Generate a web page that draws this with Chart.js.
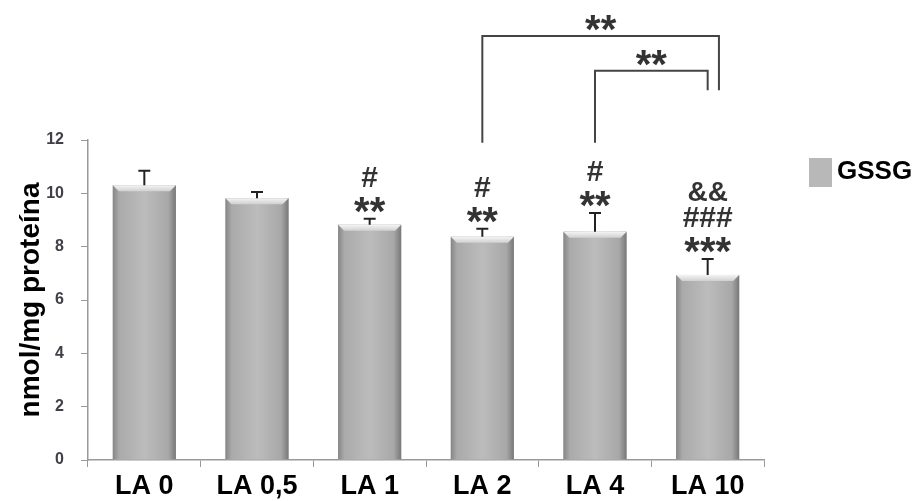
<!DOCTYPE html>
<html>
<head>
<meta charset="utf-8">
<script src="https://cdn.jsdelivr.net/npm/chart.js@4/dist/chart.umd.min.js"></script>
<style>
  html, body { margin: 0; padding: 0; background: #fff; }
  #wrap { width: 915px; height: 501px; position: relative; }
</style>
</head>
<body>
<div id="wrap"><canvas id="chart"></canvas></div>
<script>
// ─────────────────────────────────────────────────────────────
// DATA
// ─────────────────────────────────────────────────────────────
const categories = ['LA 0', 'LA 0,5', 'LA 1', 'LA 2', 'LA 4', 'LA 10'];
const gssgValues = [10.3, 9.82, 8.82, 8.37, 8.56, 6.94];
const gssgErrors = [0.55, 0.23, 0.23, 0.3, 0.7, 0.6];
// significance marks above each bar, listed from top to bottom
const marks = [[], [], ['#', '**'], ['#', '**'], ['#', '**'], ['&&', '###', '***']];
const yTicks = [0, 2, 4, 6, 8, 10, 12];
// comparison brackets: from bar, to bar, top height, left leg end, right leg end, label
const brackets = [
  { from: 3, to: 5, top: 15.9, leftEnd: 11.9, rightEnd: 13.87, label: '**', shift: 0.1 },
  { from: 4, to: 5, top: 14.6, leftEnd: 11.9, rightEnd: 13.87, label: '**', shift: 0 },
];
const seriesName = 'GSSG';

// ─────────────────────────────────────────────────────────────
// PLUGIN: shaded bars, error bars, marks, brackets, legend
// ─────────────────────────────────────────────────────────────
const decorPlugin = {
  id: 'decor',
  afterDatasetsDraw(chart) {
    const { ctx, scales: { x, y } } = chart;
    const meta = chart.getDatasetMeta(0);
    ctx.save();

    meta.data.forEach((bar, i) => {
      const left = bar.x - bar.width / 2;
      const right = bar.x + bar.width / 2;
      const top = bar.y;
      const bottom = bar.base;

      // body shading
      const g = ctx.createLinearGradient(left, 0, right, 0);
      g.addColorStop(0, '#868686');
      g.addColorStop(0.1, '#aaaaaa');
      g.addColorStop(0.5, '#bcbcbc');
      g.addColorStop(0.88, '#a8a8a8');
      g.addColorStop(1, '#787878');
      ctx.fillStyle = g;
      ctx.fillRect(left, top, right - left, bottom - top);

      // top bevel
      const bev = 6;
      ctx.beginPath();
      ctx.moveTo(left, top);
      ctx.lineTo(right, top);
      ctx.lineTo(right - bev, top + bev);
      ctx.lineTo(left + bev, top + bev);
      ctx.closePath();
      const gt = ctx.createLinearGradient(0, top, 0, top + bev);
      gt.addColorStop(0, '#f4f4f4');
      gt.addColorStop(1, '#d0d0d0');
      ctx.fillStyle = gt;
      ctx.fill();

      // error bar (upper half only)
      const yErr = y.getPixelForValue(gssgValues[i] + gssgErrors[i]);
      ctx.strokeStyle = '#222';
      ctx.lineWidth = 2;
      ctx.beginPath();
      ctx.moveTo(bar.x, top);
      ctx.lineTo(bar.x, yErr);
      ctx.moveTo(bar.x - 6, yErr);
      ctx.lineTo(bar.x + 6, yErr);
      ctx.stroke();

      // significance marks
      const list = marks[i];
      list.forEach((m, k) => {
        const fromBottom = list.length - 1 - k;
        const cy = yErr - 14 - fromBottom * 26;
        drawMark(ctx, m, bar.x, cy);
      });
    });

    // brackets
    ctx.strokeStyle = '#444';
    ctx.lineWidth = 2;
    brackets.forEach(b => {
      const x1 = x.getPixelForValue(b.from);
      const x2 = x.getPixelForValue(b.to) + b.shift * (x.getPixelForValue(1) - x.getPixelForValue(0));
      const yt = y.getPixelForValue(b.top);
      ctx.beginPath();
      ctx.moveTo(x1, y.getPixelForValue(b.leftEnd));
      ctx.lineTo(x1, yt);
      ctx.lineTo(x2, yt);
      ctx.lineTo(x2, y.getPixelForValue(b.rightEnd));
      ctx.stroke();
      drawMark(ctx, b.label, (x1 + x2) / 2, yt - 13);
    });

    // legend
    const lx = chart.chartArea.right + 45;
    const ly = y.getPixelForValue(10.8);
    ctx.fillStyle = '#b8b8b8';
    ctx.fillRect(lx, ly - 14, 23, 29);
    ctx.fillStyle = '#000';
    ctx.font = 'bold 26px "Liberation Sans", Arial, sans-serif';
    ctx.textAlign = 'left';
    ctx.textBaseline = 'middle';
    ctx.fillText(seriesName, lx + 28, ly);

    ctx.restore();
  }
};

function drawMark(ctx, text, cx, cy) {
  ctx.save();
  ctx.fillStyle = '#333';
  ctx.textAlign = 'center';
  ctx.textBaseline = 'middle';
  if (text.startsWith('*')) {
    ctx.font = 'bold 40px "Liberation Sans", Arial, sans-serif';
    ctx.fillText(text, cx, cy + 9);
  } else if (text.startsWith('#')) {
    ctx.font = 'bold 30px "Liberation Sans", Arial, sans-serif';
    ctx.fillText(text, cx, cy);
  } else {
    ctx.font = 'bold 28px "Liberation Sans", Arial, sans-serif';
    ctx.fillText(text, cx, cy);
  }
  ctx.restore();
}

// ─────────────────────────────────────────────────────────────
// CHART
// ─────────────────────────────────────────────────────────────
new Chart(document.getElementById('chart'), {
  type: 'bar',
  data: {
    labels: categories,
    datasets: [{
      label: seriesName,
      data: gssgValues,
      backgroundColor: '#b3b3b3',
      borderWidth: 0,
      categoryPercentage: 0.56,
      barPercentage: 1,
    }]
  },
  options: {
    responsive: true,
    maintainAspectRatio: false,
    animation: false,
    layout: { padding: { top: 140, right: 151, left: 0, bottom: 0 } },
    plugins: {
      legend: { display: false },
      tooltip: { enabled: false },
    },
    scales: {
      x: {
        grid: { display: true, drawOnChartArea: false, drawTicks: true, tickLength: 7, offset: true, color: '#999' },
        border: { color: '#999', width: 1.5 },
        ticks: {
          color: '#000',
          padding: 3,
          font: { size: 27, weight: 'bold', family: '"Liberation Sans Narrow", "Liberation Sans", Arial, sans-serif' },
        },
        afterFit: s => { s.height = 41; },
      },
      y: {
        min: 0,
        max: 12,
        afterBuildTicks: s => { s.ticks = yTicks.map(v => ({ value: v })); },
        grid: { display: true, drawOnChartArea: false, drawTicks: true, tickLength: 7, color: '#999' },
        border: { color: '#999', width: 1.5 },
        ticks: {
          color: '#404048',
          padding: 17,
          font: { size: 16, weight: 'bold', family: '"Liberation Sans", Arial, sans-serif' },
        },
        title: {
          display: true,
          text: 'nmol/mg proteína',
          color: '#000',
          padding: { top: 14, bottom: 0 },
          font: { size: 28, weight: 'bold', family: '"Liberation Sans", Arial, sans-serif' },
        },
        afterFit: s => { s.width = 88; },
      }
    }
  },
  plugins: [decorPlugin]
});
</script>
</body>
</html>
